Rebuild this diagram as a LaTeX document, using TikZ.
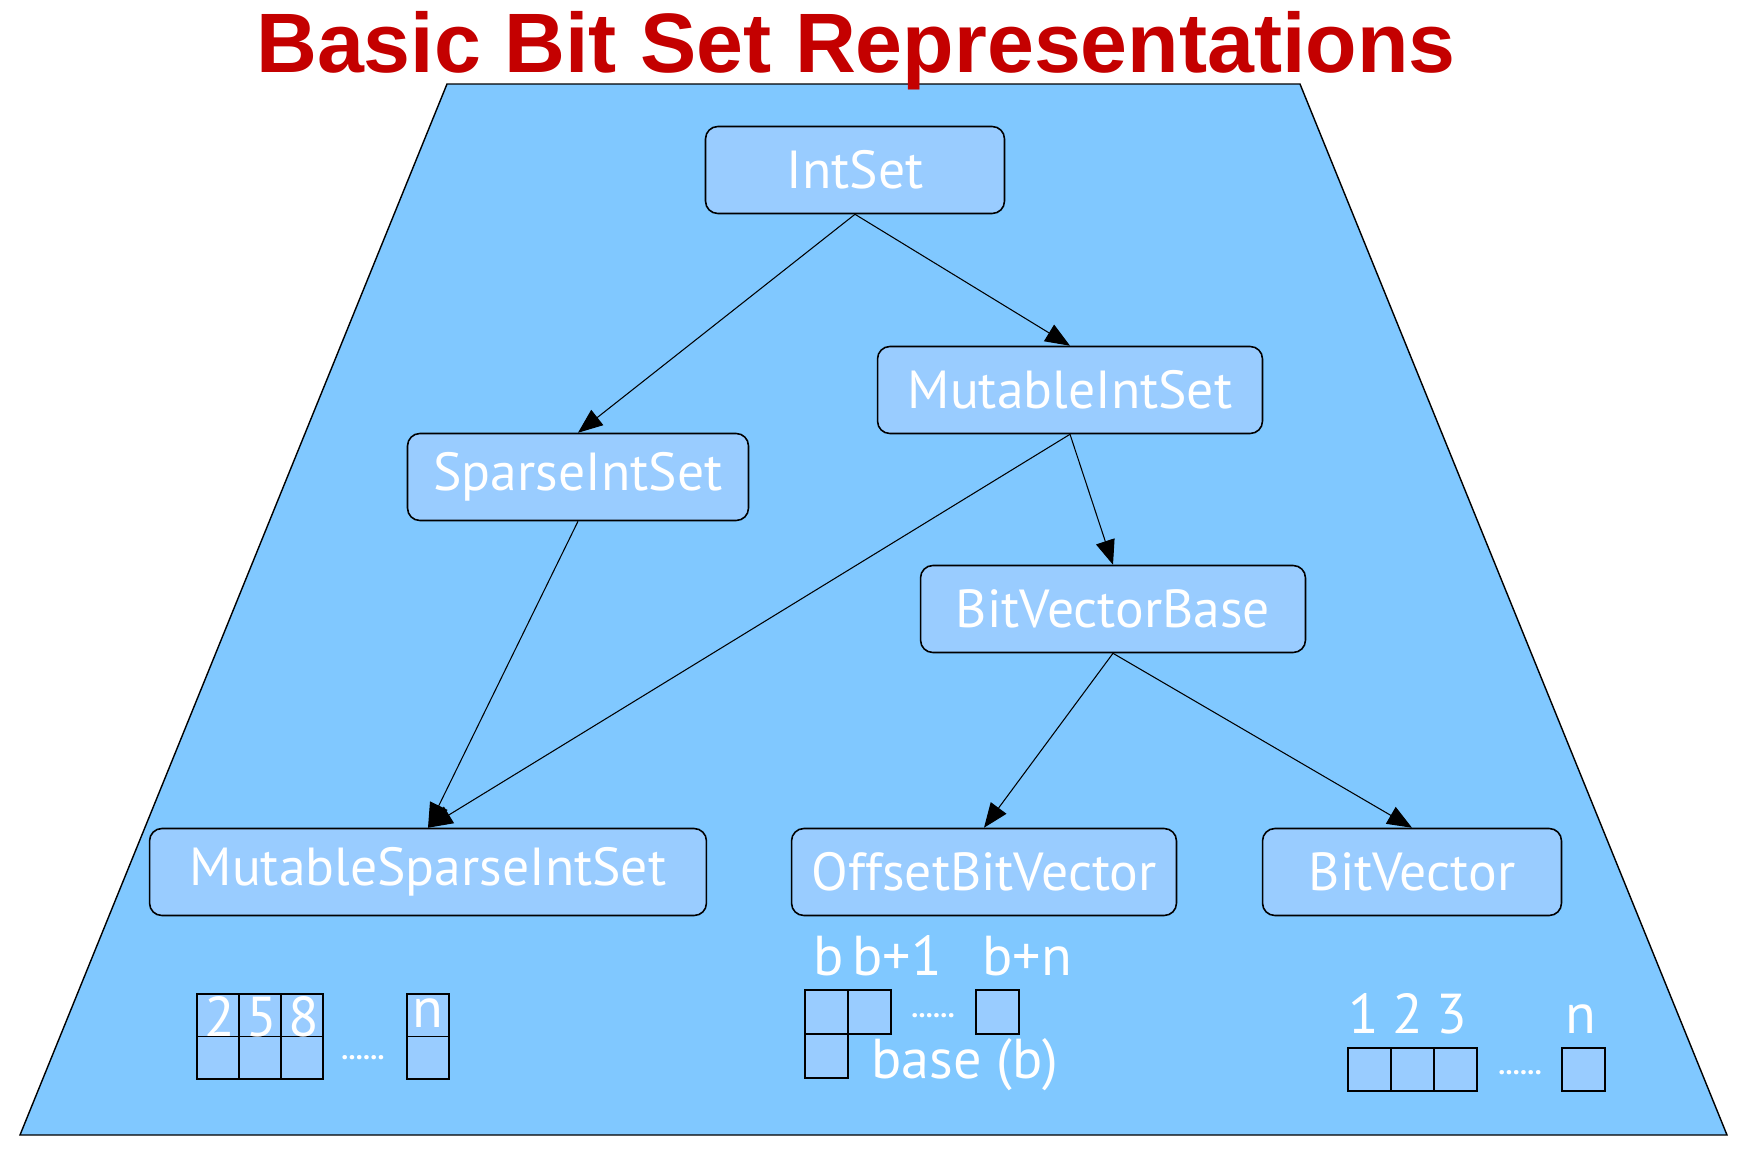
\documentclass[tikz,border=0pt]{standalone}
\usepackage{fontspec}
\setmainfont{Liberation Sans}
\newfontfamily\boxfont{PT Sans}
\usetikzlibrary{arrows.meta}

\definecolor{bgblue}{RGB}{128,200,255}
\definecolor{boxblue}{RGB}{153,204,255}
\definecolor{titlered}{RGB}{196,0,0}

\begin{document}
\begin{tikzpicture}[x=0.02cm, y=-0.02cm, >={Triangle[length=14pt,width=11pt]},
	cls/.style={draw=black, line width=0.9pt, fill=boxblue, rounded corners=7pt,
		minimum height=1.74cm, text=white, font=\boxfont\fontsize{30.5}{36}\selectfont},
	cell/.style={draw=black, line width=0.9pt, fill=boxblue},
	lbl/.style={text=white, anchor=base, inner sep=0pt, font=\boxfont\fontsize{32}{38}\selectfont},
	dots/.style={text=white, inner sep=0pt, font=\boxfont\bfseries\fontsize{16}{18}\selectfont},
	edge/.style={->, draw=black, line width=0.6pt}]
	\useasboundingbox (0,0) rectangle (1749,1161);
	% background
	\draw[fill=bgblue, draw=black, line width=0.8pt] (447,84) -- (1300,84) -- (1727,1135) -- (20,1135) -- cycle;
	\node[titlered, anchor=base, inner sep=0pt, font=\bfseries\fontsize{48}{56}\selectfont] (title) at (856,72) {Basic Bit Set Representations};
	% classes
	\node[cls, minimum width=5.98cm] (intset) at (855,170) {IntSet};
	\node[cls, minimum width=7.7cm] (mutintset) at (1070,390) {MutableIntSet};
	\node[cls, minimum width=6.82cm] (sparse) at (578,477) {SparseIntSet};
	\node[cls, minimum width=7.7cm] (bvbase) at (1113,609) {BitVectorBase};
	\node[cls, minimum width=11.14cm] (mutsparse) at (428,872) {MutableSparseIntSet};
	\node[cls, minimum width=7.7cm] (offset) at (984,872) {OffsetBitVector};
	\node[cls, minimum width=5.98cm] (bitvec) at (1412,872) {BitVector};
	\draw[edge] (intset.south) -- (sparse.north);
	\draw[edge] (intset.south) -- (mutintset.north);
	\draw[edge] (mutintset.south) -- (bvbase.north);
	\draw[edge] (mutintset.south) -- (mutsparse.north);
	\draw[edge] (sparse.south) -- (mutsparse.north);
	\draw[edge] (bvbase.south) -- (offset.north);
	\draw[edge] (bvbase.south) -- (bitvec.north);
	% sparse layout
	\foreach \i in {0,1,2}
		\foreach \j in {0,1}
			\draw[cell] (197+42*\i,994+42.5*\j) rectangle ++(42,42.5);
	\foreach \j in {0,1}
		\draw[cell] (407,994+42.5*\j) rectangle ++(42,42.5);
	\foreach \v/\i in {2/0, 5/1, 8/2}
		\node[lbl] (sp\i) at (220+42*\i,1036) {\v};
	\node[lbl] (spn) at (428,1027) {n};
	\node[dots] (spdots) at (363,1058) {......};
	% offset layout
	\draw[cell] (805,990) rectangle ++(43,44);
	\draw[cell] (848,990) rectangle ++(43,44);
	\draw[cell] (805,1034) rectangle ++(43,44);
	\draw[cell] (976,990) rectangle ++(43,44);
	\node[lbl] (ofb) at (829,975) {b};
	\node[lbl] (ofb1) at (897,975) {b+1};
	\node[lbl] (ofbn) at (1027,975) {b+n};
	\node[lbl] (ofbase) at (965,1078) {base (b)};
	\node[dots] (ofdots) at (933,1016) {......};
	% plain layout
	\foreach \i in {0,1,2}
		\draw[cell] (1348+43*\i,1048) rectangle ++(43,43);
	\draw[cell] (1562,1048) rectangle ++(43,43);
	\foreach \v/\x in {1/1364, 2/1408, 3/1452, n/1581}
		\node[lbl] (bv\v) at (\x,1033) {\v};
	\node[dots] (bvdots) at (1520,1073) {......};
\end{tikzpicture}
\end{document}
